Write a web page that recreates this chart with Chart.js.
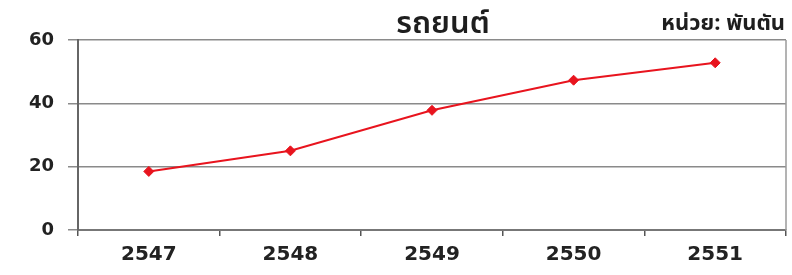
<!DOCTYPE html>
<html><head><meta charset="utf-8">
<script src="https://cdn.jsdelivr.net/npm/chart.js@4"></script>
<style>html,body{margin:0;padding:0;background:#fff;}#wrap{width:792px;height:275px;}</style>
</head><body><div id="wrap"><canvas id="c" width="792" height="275"></canvas></div>
<script>
const categories = ["2547", "2548", "2549", "2550", "2551"];
const values = [18.5, 25, 37.8, 47.3, 52.8];
const yTicks = [0, 20, 40, 60];
const titleText = "รถยนต์";
const unitText = "หน่วย: พันตัน";

const thaiFont = '"Noto Sans Thai","Noto Sans","Loma","Tahoma",sans-serif';

const decor = {
  id: 'decor',
  afterDraw(chart) {
    const ctx = chart.ctx, a = chart.chartArea;
    ctx.save();
    ctx.strokeStyle = '#9a9a9a';
    ctx.lineWidth = 1.5;
    ctx.beginPath();
    ctx.moveTo(a.right, a.top);
    ctx.lineTo(a.right, a.bottom);
    ctx.stroke();
    ctx.fillStyle = '#1e1e1e';
    ctx.textBaseline = 'alphabetic';
    ctx.textAlign = 'center';
    ctx.font = '600 31px ' + thaiFont;
    ctx.fillText(titleText, 443, 33);
    ctx.textAlign = 'right';
    ctx.font = 'bold 22px ' + thaiFont;
    ctx.fillText(unitText, a.right - 1, 30);
    ctx.restore();
  }
};

new Chart(document.getElementById('c'), {
  type: 'line',
  data: {
    labels: categories,
    datasets: [{
      data: values,
      borderColor: '#e8141e',
      backgroundColor: '#e8141e',
      borderWidth: 2,
      pointStyle: 'rectRot',
      pointRadius: 5,
      pointBorderWidth: 1,
      tension: 0
    }]
  },
  options: {
    responsive: false,
    animation: false,
    layout: { padding: { top: 40, right: 2, left: 0, bottom: 0 } },
    plugins: { legend: { display: false }, tooltip: { enabled: false } },
    scales: {
      x: {
        offset: true,
        grid: { drawOnChartArea: false, offset: true, tickLength: 6, color: '#555', lineWidth: 1.5 },
        border: { color: '#777', width: 2 },
        ticks: { color: '#222', font: { family: '"DejaVu Sans",Verdana,sans-serif', weight: 'bold', size: 20 }, padding: 7, maxRotation: 0 },
        afterFit(s) { s.height = 45; }
      },
      y: {
        min: 0, max: 60,
        afterBuildTicks(s) { s.ticks = yTicks.map(v => ({ value: v })); },
        grid: { color: '#8a8a8a', lineWidth: 1.5, tickLength: 10 },
        border: { color: '#666', width: 2 },
        ticks: { color: '#222', font: { family: '"DejaVu Sans",Verdana,sans-serif', weight: 'bold', size: 18 }, padding: 14 },
        afterFit(s) { s.width = 78; }
      }
    }
  },
  plugins: [decor]
});
</script></body></html>
